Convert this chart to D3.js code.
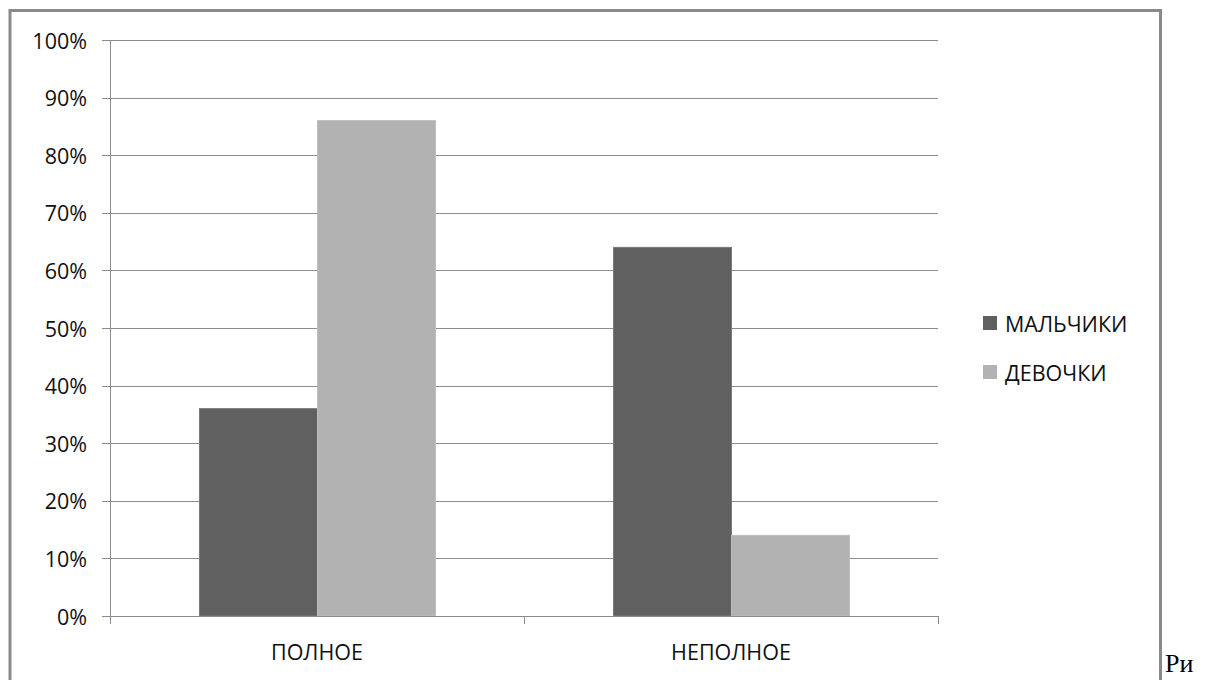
<!DOCTYPE html>
<html>
<head>
<meta charset="utf-8">
<script src="https://cdnjs.cloudflare.com/ajax/libs/d3/7.8.5/d3.min.js"></script>
<style>
  html, body { margin: 0; padding: 0; background: #fff; }
  svg { display: block; }
</style>
</head>
<body>
<svg id="chart" width="1206" height="680"></svg>
<script>
const categories = ["ПОЛНОЕ", "НЕПОЛНОЕ"];
const seriesNames = ["МАЛЬЧИКИ", "ДЕВОЧКИ"];
const boysValues = [0.36, 0.64];
const girlsValues = [0.86, 0.14];
const yTicks = [0, 0.1, 0.2, 0.3, 0.4, 0.5, 0.6, 0.7, 0.8, 0.9, 1.0];
const colors = ["#606060", "#b2b2b2"];
const strokes = ["#7a7a7a", "#bdbdbd"];

const seriesValues = [boysValues, girlsValues];

const svg = d3.select("#chart");
const font = "'Open Sans', 'DejaVu Sans', sans-serif";

// outer frame
svg.append("rect")
  .attr("x", 10).attr("y", 10.5)
  .attr("width", 1150.5).attr("height", 700)
  .attr("fill", "none").attr("stroke", "#8a8a8a").attr("stroke-width", 3);

const plot = { left: 110, right: 938, top: 40, bottom: 616 };

const x = d3.scaleBand().domain(categories).range([plot.left, plot.right]).paddingInner(0).paddingOuter(0);
const xs = d3.scaleBand().domain(seriesNames).range([0, x.bandwidth()]).paddingInner(0).paddingOuter(0.754);
const y = d3.scaleLinear().domain([0, 1]).range([plot.bottom, plot.top]);

// gridlines
svg.append("g").selectAll("line").data(yTicks).join("line")
  .attr("x1", plot.left - 8).attr("x2", plot.right)
  .attr("y1", d => Math.round(y(d)) + 0.5).attr("y2", d => Math.round(y(d)) + 0.5)
  .attr("stroke", "#8c8c8c").attr("stroke-width", 1);

// y labels
svg.append("g").selectAll("text").data(yTicks).join("text")
  .attr("x", 87).attr("y", d => y(d))
  .attr("text-anchor", "end").attr("dominant-baseline", "central")
  .attr("font-family", font).attr("font-size", 21.5).attr("fill", "#111")
  .text(d => d3.format(".0%")(d));

// bars
const flat = [];
categories.forEach((c, ci) => seriesNames.forEach((s, si) => flat.push({ c, s, si, v: seriesValues[si][ci] })));
svg.append("g").selectAll("rect").data(flat).join("rect")
  .attr("x", d => x(d.c) + xs(d.s) + 0.5)
  .attr("y", d => y(d.v))
  .attr("width", xs.bandwidth())
  .attr("height", d => y(0) - y(d.v))
  .attr("fill", d => colors[d.si])
  .attr("stroke", d => strokes[d.si]).attr("stroke-width", 1);

// y axis line
svg.append("line")
  .attr("x1", plot.left + 0.5).attr("x2", plot.left + 0.5)
  .attr("y1", plot.top).attr("y2", plot.bottom + 8)
  .attr("stroke", "#8c8c8c");
// x axis line
svg.append("line")
  .attr("x1", plot.left).attr("x2", plot.right)
  .attr("y1", Math.round(y(0)) + 0.5).attr("y2", Math.round(y(0)) + 0.5)
  .attr("stroke", "#8c8c8c");
// x ticks at category boundaries
const bounds = categories.map(c => x(c)).concat([x(categories[categories.length - 1]) + x.bandwidth()]);
svg.append("g").selectAll("line").data(bounds).join("line")
  .attr("x1", d => Math.round(d) + 0.5).attr("x2", d => Math.round(d) + 0.5)
  .attr("y1", y(0)).attr("y2", y(0) + 8)
  .attr("stroke", "#8c8c8c");

// x labels
svg.append("g").selectAll("text").data(categories).join("text")
  .attr("x", d => x(d) + x.bandwidth() / 2).attr("y", 651)
  .attr("text-anchor", "middle").attr("dominant-baseline", "central")
  .attr("font-family", font).attr("font-size", 21.5).attr("fill", "#111")
  .text(d => d);

// legend
const legend = svg.append("g").selectAll("g").data(seriesNames).join("g")
  .attr("transform", (d, i) => `translate(983, ${323 + i * 49})`);
legend.append("rect")
  .attr("x", 0).attr("y", -7).attr("width", 14).attr("height", 14)
  .attr("fill", (d, i) => colors[i]);
legend.append("text")
  .attr("x", 22).attr("y", 0).attr("dominant-baseline", "central")
  .attr("font-family", font).attr("font-size", 21.5).attr("fill", "#111")
  .text(d => d);

// trailing caption fragment
svg.append("text")
  .attr("x", 1165).attr("y", 672)
  .attr("font-family", "'Liberation Serif', 'DejaVu Serif', serif")
  .attr("font-size", 26).attr("fill", "#000")
  .text("Ри");
</script>
</body>
</html>
